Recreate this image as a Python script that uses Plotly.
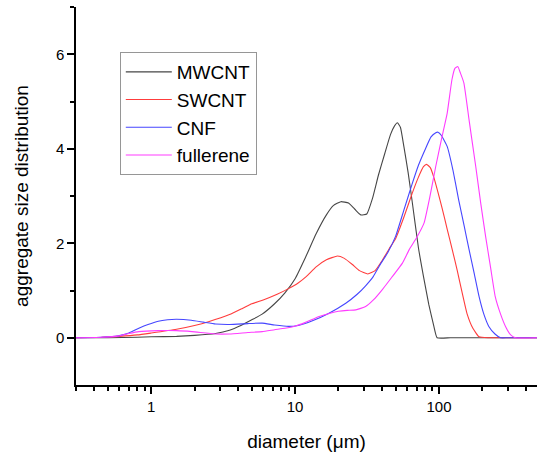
import plotly.graph_objects as go
import numpy as np

# diameter (um) and aggregate size distribution
mw_d = [0.3, 0.5, 0.8, 1, 1.5, 2, 2.8, 3.5, 4.2, 5, 5.9, 7.2, 8.5, 10, 11.8, 14, 16.5, 18.5, 20.8, 23.5, 26, 28.6, 31.5, 34.5, 38, 42, 46, 49, 51.4, 54, 57, 61, 65, 72, 78, 85, 92, 97, 120, 200, 300, 480]
mw_y = [0, 0.0, 0.01, 0.02, 0.03, 0.05, 0.09, 0.16, 0.26, 0.38, 0.5, 0.72, 0.95, 1.25, 1.7, 2.2, 2.6, 2.8, 2.88, 2.85, 2.72, 2.6, 2.62, 2.95, 3.45, 3.9, 4.3, 4.48, 4.55, 4.45, 4.05, 3.5, 2.9, 1.9, 1.3, 0.7, 0.25, 0, 0, 0, 0, 0]

sw_d = [0.3, 0.45, 0.6, 0.8, 1, 1.5, 2, 2.5, 3.5, 4.3, 5, 6, 7.5, 9, 10.5, 12, 14, 16.5, 19.7, 22, 25, 28, 32, 36, 40, 45, 50, 57, 65, 72, 78, 82, 87, 92, 98, 105, 114, 124, 134, 145, 157, 172, 190, 220, 300, 480]
sw_y = [0, 0.01, 0.03, 0.06, 0.1, 0.18, 0.26, 0.34, 0.49, 0.62, 0.72, 0.8, 0.92, 1.04, 1.16, 1.3, 1.5, 1.65, 1.73, 1.68, 1.55, 1.42, 1.35, 1.42, 1.62, 1.88, 2.1, 2.55, 3.05, 3.4, 3.62, 3.67, 3.6, 3.4, 3.1, 2.75, 2.3, 1.85, 1.42, 0.95, 0.5, 0.2, 0.02, 0, 0, 0]

cn_d = [0.3, 0.45, 0.59, 0.7, 0.82, 0.95, 1.12, 1.3, 1.5, 1.9, 2.3, 2.8, 3.5, 4.7, 5.9, 7.2, 9, 10.5, 13.2, 17.2, 22.5, 27, 30.9, 35, 38.5, 44, 50, 57, 65, 72, 80, 88, 95, 98.5, 104, 114, 125, 137, 150, 162, 176, 190, 205, 222, 245, 268, 300, 480]
cn_y = [0, 0.01, 0.04, 0.1, 0.2, 0.28, 0.35, 0.38, 0.39, 0.37, 0.33, 0.29, 0.28, 0.3, 0.31, 0.27, 0.24, 0.26, 0.36, 0.52, 0.73, 0.92, 1.1, 1.3, 1.52, 1.8, 2.15, 2.7, 3.25, 3.65, 3.98, 4.25, 4.34, 4.35, 4.28, 4.05, 3.55, 2.92, 2.35, 1.86, 1.35, 0.87, 0.5, 0.24, 0.08, 0, 0, 0]

fu_d = [0.3, 0.45, 0.6, 0.7, 0.82, 1.12, 1.5, 1.92, 2.78, 3.5, 4.7, 5.9, 7.2, 8.5, 10.1, 11.7, 14.7, 17.5, 20, 23, 26.4, 30.9, 35, 40.4, 47, 55.7, 62, 70, 78.8, 86, 95, 104, 114, 123, 129, 135, 141, 149, 162, 180, 195, 211, 228, 246, 268, 290, 315, 340, 480]
fu_y = [0, 0.01, 0.04, 0.09, 0.13, 0.15, 0.15, 0.13, 0.08, 0.08, 0.11, 0.13, 0.17, 0.2, 0.25, 0.32, 0.45, 0.52, 0.56, 0.58, 0.59, 0.66, 0.8, 1.02, 1.28, 1.58, 1.86, 2.12, 2.43, 2.95, 3.63, 4.2, 4.75, 5.46, 5.7, 5.74, 5.6, 5.39, 4.6, 3.63, 2.85, 2.14, 1.5, 0.87, 0.5, 0.24, 0.06, 0, 0]

series = [
    ("MWCNT", mw_d, mw_y, "rgb(70,70,70)"),
    ("SWCNT", sw_d, sw_y, "rgb(255,60,60)"),
    ("CNF", cn_d, cn_y, "rgb(70,70,255)"),
    ("fullerene", fu_d, fu_y, "rgb(255,60,255)"),
]

x_minor = [v * m for m in (0.1, 1, 10, 100) for v in range(2, 10)]
x_minor = sorted(set(round(v, 3) for v in x_minor if 0.3 <= v <= 500))

fig = go.Figure()
for name, d, y, c in series:
    fig.add_trace(go.Scatter(x=d, y=y, mode="lines", name=name,
                             line=dict(color=c, width=1.1, shape="spline", smoothing=0.4)))

font = "Liberation Sans, Arial, sans-serif"
fig.update_layout(
    width=537, height=453,
    margin=dict(l=76, r=0, t=7, b=68, autoexpand=False),
    plot_bgcolor="white", paper_bgcolor="white",
    font=dict(family=font, size=15, color="black"),
    showlegend=True,
    legend=dict(x=0.095, y=0.881, xanchor="left", yanchor="top",
                bordercolor="rgb(150,150,150)", borderwidth=1,
                font=dict(size=19, family=font), tracegroupgap=0,
                bgcolor="white", itemwidth=46),
    xaxis=dict(type="log", range=[np.log10(0.3), np.log10(480)], automargin=False,
               tickvals=[1, 10, 100], ticktext=["1", "10", "100"],
               ticks="outside", ticklen=7, tickwidth=1.5, tickcolor="black",
               showline=True, linecolor="black", linewidth=1.5,
               showgrid=False, zeroline=False,
               minor=dict(tickvals=x_minor, ticks="outside", ticklen=4, tickwidth=1.5, tickcolor="black"),
               title=dict(text="diameter (μm)", font=dict(size=19), standoff=21),
               tickfont=dict(size=15)),
    yaxis=dict(range=[-1, 7], tickvals=[0, 2, 4, 6], automargin=False,
               ticks="outside", ticklen=7, tickwidth=1.5, tickcolor="black",
               showline=True, linecolor="black", linewidth=1.5,
               showgrid=False, zeroline=False,
               minor=dict(tickvals=[1, 3, 5, 7], ticks="outside", ticklen=4, tickwidth=1.5, tickcolor="black"),
               title=dict(text="aggregate size distribution", font=dict(size=19), standoff=22),
               tickfont=dict(size=15)),
)
fig.write_html("out.html", config={"displayModeBar": False},
               post_script="document.body.style.margin='0px';document.body.style.overflow='hidden';")
